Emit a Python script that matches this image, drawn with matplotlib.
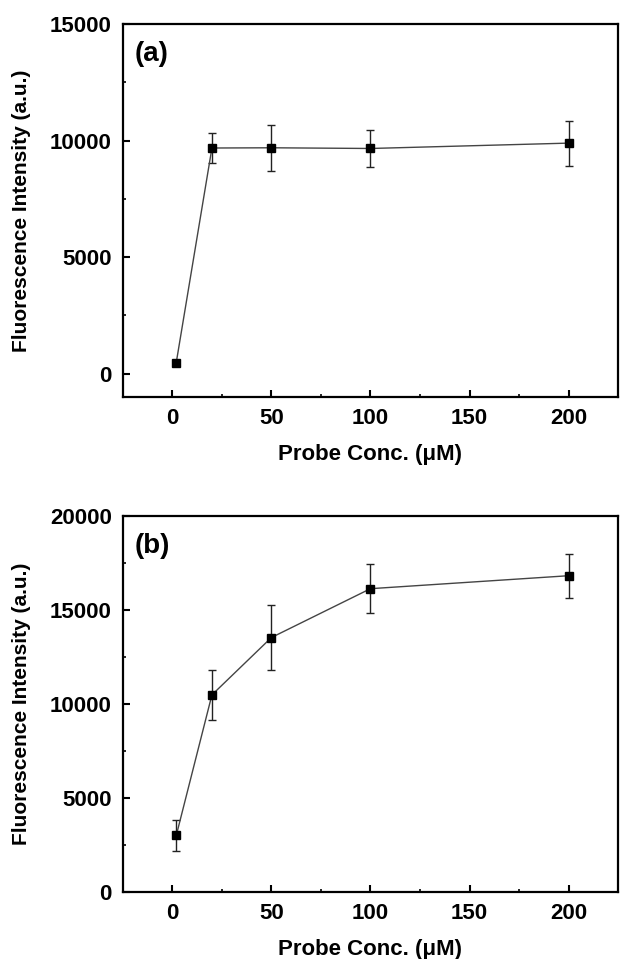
import numpy as np
import matplotlib.pyplot as plt
from matplotlib.ticker import MultipleLocator

plt.rcParams['font.family'] = ['Liberation Sans', 'DejaVu Sans']
plt.rcParams['font.weight'] = 'bold'

conc = [2, 20, 50, 100, 200]

# panel (a)
int_a = [480, 9680, 9690, 9660, 9890]
err_a = [0, 660, 980, 810, 970]

# panel (b)
int_b = [3000, 10480, 13530, 16130, 16820]
err_b = [850, 1310, 1750, 1290, 1160]

panels = [
    ('(a)', int_a, err_a, (-1000, 15000), 5000, [0.586, 0.975]),
    ('(b)', int_b, err_b, (0, 20000), 5000, [0.070, 0.462]),
]

fig = plt.figure(figsize=(6.2, 9.59), dpi=100)

for tag, y, e, ylim, ystep, (b, t) in panels:
    ax = fig.add_axes([0.198, b, 0.799, t - b])
    ax.errorbar(conc, y, yerr=e, fmt='none', ecolor='#222222',
                elinewidth=1.0, capsize=3, capthick=1.0, zorder=2)
    ax.plot(conc, y, color='#444444', linewidth=1.0, marker='s',
            markersize=5.5, markerfacecolor='black', markeredgecolor='black',
            zorder=3)
    ax.set_xlim(-25, 225)
    ax.set_ylim(*ylim)
    ax.xaxis.set_major_locator(MultipleLocator(50))
    ax.xaxis.set_minor_locator(MultipleLocator(25))
    ax.yaxis.set_major_locator(MultipleLocator(ystep))
    ax.yaxis.set_minor_locator(MultipleLocator(ystep / 2))
    ax.tick_params(which='major', direction='in', length=5, width=1.5,
                   labelsize=16, pad=8, top=False, right=False)
    ax.tick_params(which='minor', direction='in', length=2.5, width=1.2,
                   top=False, right=False)
    for s in ax.spines.values():
        s.set_linewidth(1.6)
    ax.set_xlabel('Probe Conc. (μM)', fontsize=16, fontweight='bold',
                  labelpad=11)
    ax.set_ylabel('Fluorescence Intensity (a.u.)', fontsize=15,
                  fontweight='bold')
    ax.yaxis.set_label_coords(-0.185, 0.5)
    ax.text(0.024, 0.955, tag, transform=ax.transAxes, fontsize=20,
            fontweight='bold', va='top', ha='left')

fig.savefig('out.png', dpi=100)
